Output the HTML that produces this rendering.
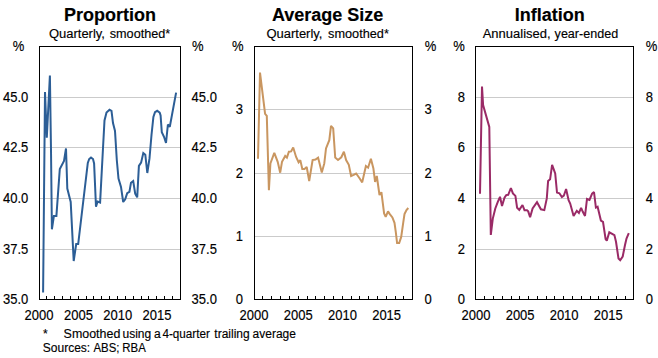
<!DOCTYPE html>
<html><head><meta charset="utf-8">
<style>
html,body{margin:0;padding:0;background:#fff;width:658px;height:358px;overflow:hidden;position:relative}
text{font-family:"Liberation Sans",sans-serif}
</style></head><body>
<svg width="658" height="358" viewBox="0 0 658 358" style="position:absolute;left:0;top:0">
<rect x="0" y="0" width="658" height="358" fill="#fff"/>
<line x1="39.5" x2="180.5" y1="249.5" y2="249.5" stroke="#cbcbcb" stroke-width="1"/>
<line x1="39.5" x2="180.5" y1="198.5" y2="198.5" stroke="#cbcbcb" stroke-width="1"/>
<line x1="39.5" x2="180.5" y1="147.5" y2="147.5" stroke="#cbcbcb" stroke-width="1"/>
<line x1="39.5" x2="180.5" y1="97.5" y2="97.5" stroke="#cbcbcb" stroke-width="1"/>
<polyline points="43.1,292.5 45.0,92.0 46.8,137.8 49.9,75.5 51.0,150.0 51.9,229.3 53.9,215.9 56.4,215.9 59.8,169.0 64.0,161.0 66.0,148.5 67.3,188.5 70.7,202.0 73.7,261.0 76.2,244.0 78.2,244.0 87.8,163.0 89.2,159.0 91.0,157.6 93.0,159.0 94.1,163.4 96.0,206.8 97.6,201.5 100.1,202.5 102.9,150.0 104.5,120.5 106.5,112.5 109.5,109.8 111.5,110.8 113.0,123.0 115.0,131.0 116.8,160.0 118.5,178.5 121.0,186.9 123.2,202.0 125.2,199.4 127.2,193.2 129.4,191.9 131.0,182.7 133.2,181.0 135.2,193.6 137.2,197.4 138.9,165.9 141.1,162.6 143.3,153.0 145.3,154.7 147.3,173.0 149.5,158.4 151.5,135.0 153.4,117.0 155.0,112.2 157.2,110.8 159.7,112.6 160.6,115.5 161.8,132.3 164.0,136.8 166.0,143.0 167.9,124.5 169.8,126.8 176.1,92.6" fill="none" stroke="#2c5e96" stroke-width="2" stroke-linejoin="miter" stroke-miterlimit="2"/>
<line x1="46.5" x2="46.5" y1="296" y2="299.5" stroke="#000" stroke-width="1"/>
<line x1="54.5" x2="54.5" y1="296" y2="299.5" stroke="#000" stroke-width="1"/>
<line x1="62.5" x2="62.5" y1="296" y2="299.5" stroke="#000" stroke-width="1"/>
<line x1="70.5" x2="70.5" y1="296" y2="299.5" stroke="#000" stroke-width="1"/>
<line x1="78.5" x2="78.5" y1="296" y2="299.5" stroke="#000" stroke-width="1"/>
<line x1="86.5" x2="86.5" y1="296" y2="299.5" stroke="#000" stroke-width="1"/>
<line x1="93.5" x2="93.5" y1="296" y2="299.5" stroke="#000" stroke-width="1"/>
<line x1="101.5" x2="101.5" y1="296" y2="299.5" stroke="#000" stroke-width="1"/>
<line x1="109.5" x2="109.5" y1="296" y2="299.5" stroke="#000" stroke-width="1"/>
<line x1="117.5" x2="117.5" y1="296" y2="299.5" stroke="#000" stroke-width="1"/>
<line x1="125.5" x2="125.5" y1="296" y2="299.5" stroke="#000" stroke-width="1"/>
<line x1="133.5" x2="133.5" y1="296" y2="299.5" stroke="#000" stroke-width="1"/>
<line x1="141.5" x2="141.5" y1="296" y2="299.5" stroke="#000" stroke-width="1"/>
<line x1="148.5" x2="148.5" y1="296" y2="299.5" stroke="#000" stroke-width="1"/>
<line x1="156.5" x2="156.5" y1="296" y2="299.5" stroke="#000" stroke-width="1"/>
<line x1="164.5" x2="164.5" y1="296" y2="299.5" stroke="#000" stroke-width="1"/>
<line x1="172.5" x2="172.5" y1="296" y2="299.5" stroke="#000" stroke-width="1"/>
<rect x="39.5" y="46.5" width="141.0" height="253.0" fill="none" stroke="#000" stroke-width="1"/>
<line x1="254.5" x2="412.5" y1="236.5" y2="236.5" stroke="#cbcbcb" stroke-width="1"/>
<line x1="254.5" x2="412.5" y1="173.5" y2="173.5" stroke="#cbcbcb" stroke-width="1"/>
<line x1="254.5" x2="412.5" y1="109.5" y2="109.5" stroke="#cbcbcb" stroke-width="1"/>
<polyline points="258.0,158.8 260.0,72.6 265.1,113.8 266.8,115.9 268.9,190.3 270.4,163.5 274.3,152.9 277.7,161.8 280.2,172.7 282.0,161.8 285.2,155.9 286.9,157.6 288.9,151.7 291.1,151.4 293.2,147.5 296.1,157.0 298.6,162.3 300.3,160.1 302.3,169.0 304.5,169.0 306.7,167.0 309.2,181.0 312.6,160.0 315.5,159.5 318.1,157.6 321.8,172.6 324.3,163.4 326.0,148.5 329.3,140.2 331.0,125.9 333.2,128.4 335.2,157.6 338.0,160.0 341.3,157.3 343.9,151.8 346.1,160.1 348.8,164.8 351.1,176.0 353.6,174.8 356.1,173.5 359.2,177.7 362.2,182.4 364.2,173.5 365.9,166.0 368.1,167.7 370.9,158.8 373.4,168.5 375.1,181.9 376.8,176.0 379.5,195.0 381.4,192.2 384.1,213.4 385.7,216.8 388.0,211.4 389.8,214.1 392.4,217.4 394.5,222.8 395.8,232.2 397.1,243.0 399.2,243.0 401.2,236.9 403.2,222.8 404.5,214.1 406.5,210.0 408.3,208.0" fill="none" stroke="#c99660" stroke-width="2" stroke-linejoin="miter" stroke-miterlimit="2"/>
<line x1="262.5" x2="262.5" y1="296" y2="299.5" stroke="#000" stroke-width="1"/>
<line x1="271.5" x2="271.5" y1="296" y2="299.5" stroke="#000" stroke-width="1"/>
<line x1="280.5" x2="280.5" y1="296" y2="299.5" stroke="#000" stroke-width="1"/>
<line x1="289.5" x2="289.5" y1="296" y2="299.5" stroke="#000" stroke-width="1"/>
<line x1="298.5" x2="298.5" y1="296" y2="299.5" stroke="#000" stroke-width="1"/>
<line x1="307.5" x2="307.5" y1="296" y2="299.5" stroke="#000" stroke-width="1"/>
<line x1="315.5" x2="315.5" y1="296" y2="299.5" stroke="#000" stroke-width="1"/>
<line x1="324.5" x2="324.5" y1="296" y2="299.5" stroke="#000" stroke-width="1"/>
<line x1="333.5" x2="333.5" y1="296" y2="299.5" stroke="#000" stroke-width="1"/>
<line x1="342.5" x2="342.5" y1="296" y2="299.5" stroke="#000" stroke-width="1"/>
<line x1="351.5" x2="351.5" y1="296" y2="299.5" stroke="#000" stroke-width="1"/>
<line x1="359.5" x2="359.5" y1="296" y2="299.5" stroke="#000" stroke-width="1"/>
<line x1="368.5" x2="368.5" y1="296" y2="299.5" stroke="#000" stroke-width="1"/>
<line x1="377.5" x2="377.5" y1="296" y2="299.5" stroke="#000" stroke-width="1"/>
<line x1="386.5" x2="386.5" y1="296" y2="299.5" stroke="#000" stroke-width="1"/>
<line x1="395.5" x2="395.5" y1="296" y2="299.5" stroke="#000" stroke-width="1"/>
<line x1="403.5" x2="403.5" y1="296" y2="299.5" stroke="#000" stroke-width="1"/>
<rect x="254.5" y="46.5" width="158.0" height="253.0" fill="none" stroke="#000" stroke-width="1"/>
<line x1="475.5" x2="633.5" y1="249.5" y2="249.5" stroke="#cbcbcb" stroke-width="1"/>
<line x1="475.5" x2="633.5" y1="198.5" y2="198.5" stroke="#cbcbcb" stroke-width="1"/>
<line x1="475.5" x2="633.5" y1="147.5" y2="147.5" stroke="#cbcbcb" stroke-width="1"/>
<line x1="475.5" x2="633.5" y1="97.5" y2="97.5" stroke="#cbcbcb" stroke-width="1"/>
<polyline points="480.0,193.8 482.0,86.5 483.1,105.0 489.3,127.0 490.8,235.0 492.8,218.6 495.3,208.5 497.8,201.8 500.0,196.8 502.0,206.0 504.5,197.6 506.2,195.1 508.2,194.8 510.9,188.0 512.9,193.4 515.4,195.9 517.1,207.7 519.3,209.9 522.5,205.0 524.5,210.2 527.0,210.2 528.2,211.4 530.1,217.2 532.6,208.5 537.0,202.2 540.9,209.3 544.3,210.1 546.8,198.4 548.1,181.0 550.1,179.3 552.1,164.8 555.2,173.5 557.0,192.6 559.4,193.3 561.9,197.0 563.8,195.7 566.1,189.0 568.6,200.2 570.2,203.5 573.6,216.0 576.8,210.8 578.9,213.0 581.1,207.8 582.8,211.8 585.0,216.0 587.0,199.0 589.5,200.0 592.1,193.6 594.0,192.0 595.9,207.6 597.6,206.8 600.9,220.5 603.0,221.8 605.6,239.0 606.8,240.6 609.3,232.3 614.4,235.1 616.0,241.8 618.5,258.5 620.2,260.2 622.7,256.5 625.0,245.0 626.5,238.5 628.8,233.1" fill="none" stroke="#9a2a66" stroke-width="2" stroke-linejoin="miter" stroke-miterlimit="2"/>
<line x1="484.5" x2="484.5" y1="296" y2="299.5" stroke="#000" stroke-width="1"/>
<line x1="493.5" x2="493.5" y1="296" y2="299.5" stroke="#000" stroke-width="1"/>
<line x1="502.5" x2="502.5" y1="296" y2="299.5" stroke="#000" stroke-width="1"/>
<line x1="511.5" x2="511.5" y1="296" y2="299.5" stroke="#000" stroke-width="1"/>
<line x1="519.5" x2="519.5" y1="296" y2="299.5" stroke="#000" stroke-width="1"/>
<line x1="528.5" x2="528.5" y1="296" y2="299.5" stroke="#000" stroke-width="1"/>
<line x1="537.5" x2="537.5" y1="296" y2="299.5" stroke="#000" stroke-width="1"/>
<line x1="546.5" x2="546.5" y1="296" y2="299.5" stroke="#000" stroke-width="1"/>
<line x1="554.5" x2="554.5" y1="296" y2="299.5" stroke="#000" stroke-width="1"/>
<line x1="563.5" x2="563.5" y1="296" y2="299.5" stroke="#000" stroke-width="1"/>
<line x1="572.5" x2="572.5" y1="296" y2="299.5" stroke="#000" stroke-width="1"/>
<line x1="581.5" x2="581.5" y1="296" y2="299.5" stroke="#000" stroke-width="1"/>
<line x1="590.5" x2="590.5" y1="296" y2="299.5" stroke="#000" stroke-width="1"/>
<line x1="598.5" x2="598.5" y1="296" y2="299.5" stroke="#000" stroke-width="1"/>
<line x1="607.5" x2="607.5" y1="296" y2="299.5" stroke="#000" stroke-width="1"/>
<line x1="616.5" x2="616.5" y1="296" y2="299.5" stroke="#000" stroke-width="1"/>
<line x1="625.5" x2="625.5" y1="296" y2="299.5" stroke="#000" stroke-width="1"/>
<rect x="475.5" y="46.5" width="158.0" height="253.0" fill="none" stroke="#000" stroke-width="1"/>
</svg>
<svg width="658" height="358" style="position:absolute;left:0;top:0" font-family="Liberation Sans, sans-serif" stroke="#000" stroke-width="0.15" stroke-linejoin="round">
<text x="109.9" y="20.7" text-anchor="middle" font-size="18" font-weight="bold" fill="#000">Proportion</text>
<text transform="translate(48.9,37.7) scale(1,1.04)" text-anchor="start" font-size="13" font-weight="normal" fill="#000">Quarterly,</text>
<text transform="translate(109.7,37.7) scale(1,1.04)" text-anchor="start" font-size="13" font-weight="normal" fill="#000" textLength="60.6" lengthAdjust="spacingAndGlyphs">smoothed*</text>
<text x="327.6" y="20.7" text-anchor="middle" font-size="18" font-weight="bold" fill="#000">Average Size</text>
<text transform="translate(266.4,37.7) scale(1,1.04)" text-anchor="start" font-size="13" font-weight="normal" fill="#000">Quarterly,</text>
<text transform="translate(328.1,37.7) scale(1,1.04)" text-anchor="start" font-size="13" font-weight="normal" fill="#000" textLength="60.8" lengthAdjust="spacingAndGlyphs">smoothed*</text>
<text x="549.8" y="20.7" text-anchor="middle" font-size="18" font-weight="bold" fill="#000">Inflation</text>
<text transform="translate(482.7,37.7) scale(1,1.04)" text-anchor="start" font-size="13" font-weight="normal" fill="#000">Annualised,</text>
<text transform="translate(554.6,37.7) scale(1,1.04)" text-anchor="start" font-size="13" font-weight="normal" fill="#000" textLength="63.6" lengthAdjust="spacingAndGlyphs">year-ended</text>
<text transform="translate(12.8,50.5) scale(1,1.1)" text-anchor="start" font-size="13" font-weight="normal" fill="#000">%</text>
<text transform="translate(192.0,50.5) scale(1,1.1)" text-anchor="start" font-size="13" font-weight="normal" fill="#000">%</text>
<text transform="translate(231.9,50.5) scale(1,1.1)" text-anchor="start" font-size="13" font-weight="normal" fill="#000">%</text>
<text transform="translate(424.8,50.5) scale(1,1.1)" text-anchor="start" font-size="13" font-weight="normal" fill="#000">%</text>
<text transform="translate(453.2,50.5) scale(1,1.1)" text-anchor="start" font-size="13" font-weight="normal" fill="#000">%</text>
<text transform="translate(645.8,50.5) scale(1,1.1)" text-anchor="start" font-size="13" font-weight="normal" fill="#000">%</text>
<text transform="translate(28.3,303.6) scale(1,1.1)" text-anchor="end" font-size="13" font-weight="normal" fill="#000">35.0</text>
<text transform="translate(191.6,303.6) scale(1,1.1)" text-anchor="start" font-size="13" font-weight="normal" fill="#000">35.0</text>
<text transform="translate(28.3,253.5) scale(1,1.1)" text-anchor="end" font-size="13" font-weight="normal" fill="#000">37.5</text>
<text transform="translate(191.6,253.5) scale(1,1.1)" text-anchor="start" font-size="13" font-weight="normal" fill="#000">37.5</text>
<text transform="translate(28.3,202.9) scale(1,1.1)" text-anchor="end" font-size="13" font-weight="normal" fill="#000">40.0</text>
<text transform="translate(191.6,202.9) scale(1,1.1)" text-anchor="start" font-size="13" font-weight="normal" fill="#000">40.0</text>
<text transform="translate(28.3,152.3) scale(1,1.1)" text-anchor="end" font-size="13" font-weight="normal" fill="#000">42.5</text>
<text transform="translate(191.6,152.3) scale(1,1.1)" text-anchor="start" font-size="13" font-weight="normal" fill="#000">42.5</text>
<text transform="translate(28.3,101.7) scale(1,1.1)" text-anchor="end" font-size="13" font-weight="normal" fill="#000">45.0</text>
<text transform="translate(191.6,101.7) scale(1,1.1)" text-anchor="start" font-size="13" font-weight="normal" fill="#000">45.0</text>
<text transform="translate(39.0,319.5) scale(1,1.1)" text-anchor="middle" font-size="13" font-weight="normal" fill="#000">2000</text>
<text transform="translate(78.4,319.5) scale(1,1.1)" text-anchor="middle" font-size="13" font-weight="normal" fill="#000">2005</text>
<text transform="translate(117.7,319.5) scale(1,1.1)" text-anchor="middle" font-size="13" font-weight="normal" fill="#000">2010</text>
<text transform="translate(157.0,319.5) scale(1,1.1)" text-anchor="middle" font-size="13" font-weight="normal" fill="#000">2015</text>
<text transform="translate(242.9,303.6) scale(1,1.1)" text-anchor="end" font-size="13" font-weight="normal" fill="#000">0</text>
<text transform="translate(424.6,303.6) scale(1,1.1)" text-anchor="start" font-size="13" font-weight="normal" fill="#000">0</text>
<text transform="translate(242.9,240.8) scale(1,1.1)" text-anchor="end" font-size="13" font-weight="normal" fill="#000">1</text>
<text transform="translate(424.6,240.8) scale(1,1.1)" text-anchor="start" font-size="13" font-weight="normal" fill="#000">1</text>
<text transform="translate(242.9,177.6) scale(1,1.1)" text-anchor="end" font-size="13" font-weight="normal" fill="#000">2</text>
<text transform="translate(424.6,177.6) scale(1,1.1)" text-anchor="start" font-size="13" font-weight="normal" fill="#000">2</text>
<text transform="translate(242.9,114.3) scale(1,1.1)" text-anchor="end" font-size="13" font-weight="normal" fill="#000">3</text>
<text transform="translate(424.6,114.3) scale(1,1.1)" text-anchor="start" font-size="13" font-weight="normal" fill="#000">3</text>
<text transform="translate(254.0,319.5) scale(1,1.1)" text-anchor="middle" font-size="13" font-weight="normal" fill="#000">2000</text>
<text transform="translate(298.2,319.5) scale(1,1.1)" text-anchor="middle" font-size="13" font-weight="normal" fill="#000">2005</text>
<text transform="translate(342.4,319.5) scale(1,1.1)" text-anchor="middle" font-size="13" font-weight="normal" fill="#000">2010</text>
<text transform="translate(386.6,319.5) scale(1,1.1)" text-anchor="middle" font-size="13" font-weight="normal" fill="#000">2015</text>
<text transform="translate(465.1,303.6) scale(1,1.1)" text-anchor="end" font-size="13" font-weight="normal" fill="#000">0</text>
<text transform="translate(645.8,303.6) scale(1,1.1)" text-anchor="start" font-size="13" font-weight="normal" fill="#000">0</text>
<text transform="translate(465.1,253.5) scale(1,1.1)" text-anchor="end" font-size="13" font-weight="normal" fill="#000">2</text>
<text transform="translate(645.8,253.5) scale(1,1.1)" text-anchor="start" font-size="13" font-weight="normal" fill="#000">2</text>
<text transform="translate(465.1,202.9) scale(1,1.1)" text-anchor="end" font-size="13" font-weight="normal" fill="#000">4</text>
<text transform="translate(645.8,202.9) scale(1,1.1)" text-anchor="start" font-size="13" font-weight="normal" fill="#000">4</text>
<text transform="translate(465.1,152.3) scale(1,1.1)" text-anchor="end" font-size="13" font-weight="normal" fill="#000">6</text>
<text transform="translate(645.8,152.3) scale(1,1.1)" text-anchor="start" font-size="13" font-weight="normal" fill="#000">6</text>
<text transform="translate(465.1,101.7) scale(1,1.1)" text-anchor="end" font-size="13" font-weight="normal" fill="#000">8</text>
<text transform="translate(645.8,101.7) scale(1,1.1)" text-anchor="start" font-size="13" font-weight="normal" fill="#000">8</text>
<text transform="translate(476.0,319.5) scale(1,1.1)" text-anchor="middle" font-size="13" font-weight="normal" fill="#000">2000</text>
<text transform="translate(520.1,319.5) scale(1,1.1)" text-anchor="middle" font-size="13" font-weight="normal" fill="#000">2005</text>
<text transform="translate(564.1,319.5) scale(1,1.1)" text-anchor="middle" font-size="13" font-weight="normal" fill="#000">2010</text>
<text transform="translate(608.2,319.5) scale(1,1.1)" text-anchor="middle" font-size="13" font-weight="normal" fill="#000">2015</text>
<text x="43" y="338.2" text-anchor="start" font-size="12" font-weight="normal" fill="#000">*</text>
<text x="63.6" y="338.2" text-anchor="start" font-size="12" font-weight="normal" fill="#000" textLength="56.7" lengthAdjust="spacingAndGlyphs">Smoothed</text>
<text x="122.5" y="338.2" text-anchor="start" font-size="12" font-weight="normal" fill="#000">using</text>
<text x="153.9" y="338.2" text-anchor="start" font-size="12" font-weight="normal" fill="#000">a</text>
<text x="162.4" y="338.2" text-anchor="start" font-size="12" font-weight="normal" fill="#000" textLength="47.5" lengthAdjust="spacingAndGlyphs">4-quarter</text>
<text x="214.3" y="338.2" text-anchor="start" font-size="12" font-weight="normal" fill="#000">trailing</text>
<text x="252.6" y="338.2" text-anchor="start" font-size="12" font-weight="normal" fill="#000">average</text>
<text x="42.8" y="351.9" text-anchor="start" font-size="12" font-weight="normal" fill="#000">Sources:</text>
<text x="93.5" y="351.9" text-anchor="start" font-size="12" font-weight="normal" fill="#000" textLength="26.0" lengthAdjust="spacingAndGlyphs">ABS;</text>
<text x="122.3" y="351.9" text-anchor="start" font-size="12" font-weight="normal" fill="#000" textLength="23.5" lengthAdjust="spacingAndGlyphs">RBA</text>
</svg>
</body></html>
